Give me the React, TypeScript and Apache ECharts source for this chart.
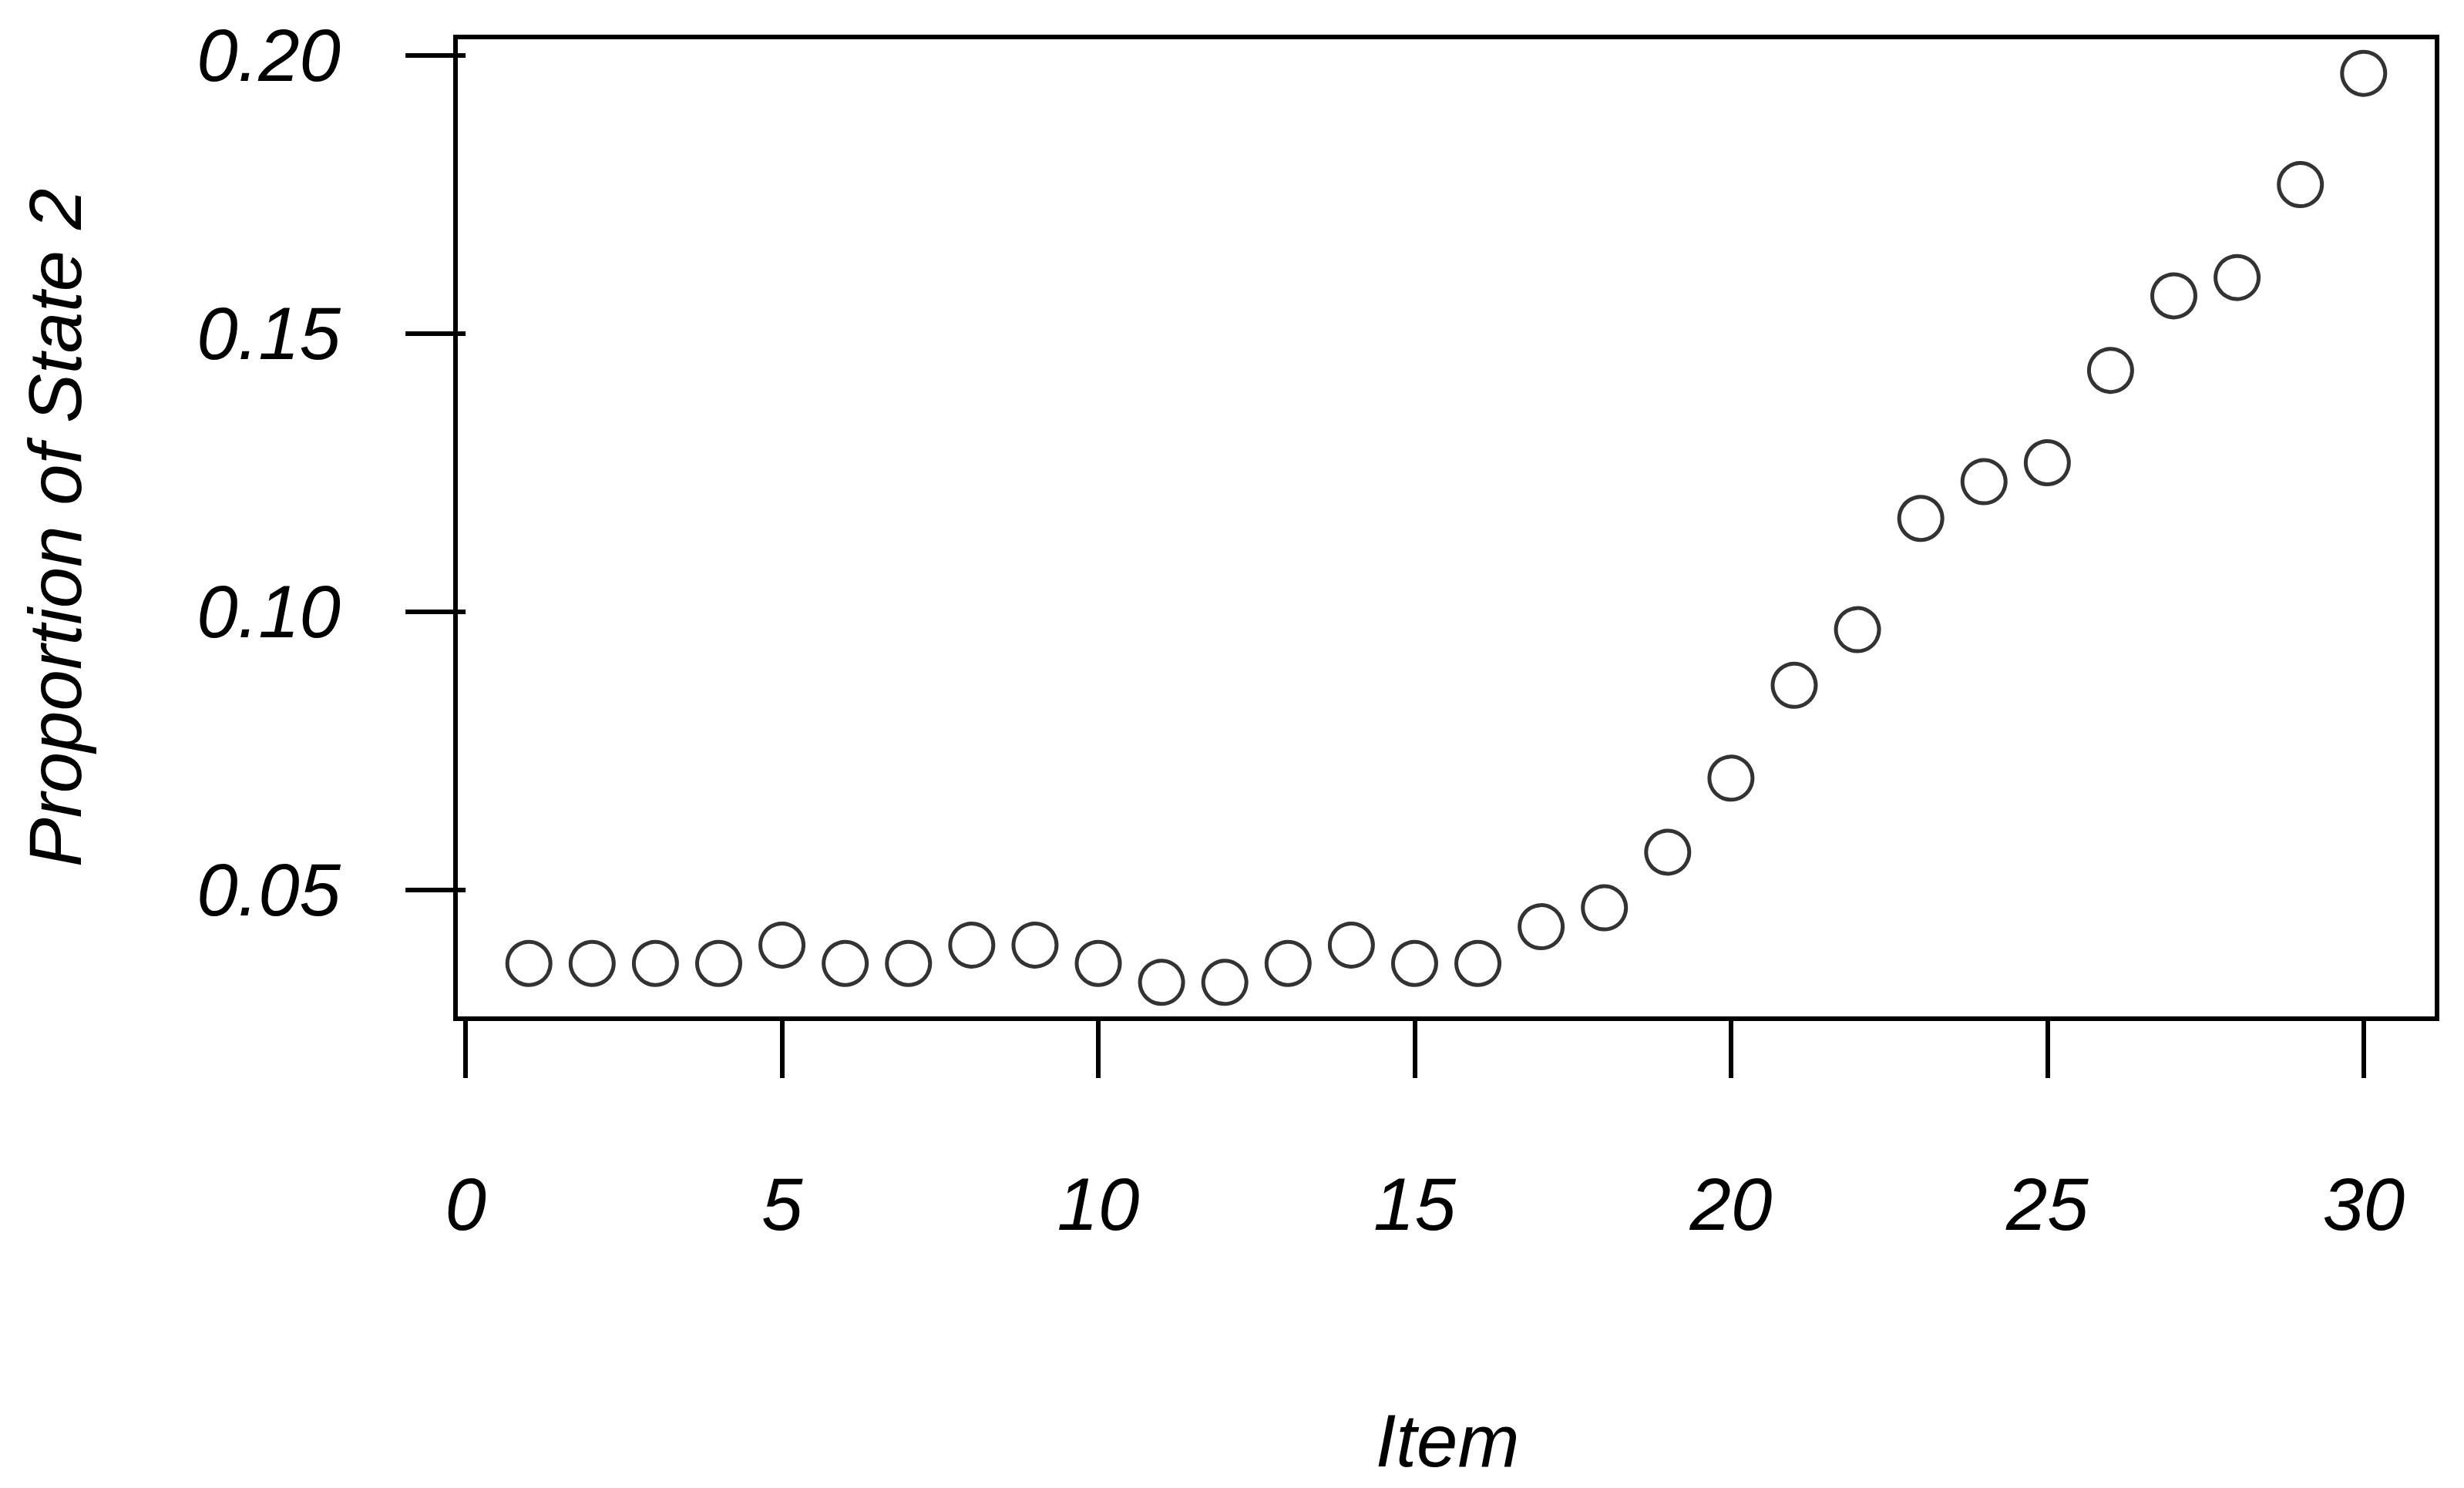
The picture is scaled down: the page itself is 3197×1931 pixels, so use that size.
import React, { useEffect, useRef } from "react";
import * as echarts from "echarts";

const items: number[] = [
  1, 2, 3, 4, 5, 6, 7, 8, 9, 10, 11, 12, 13, 14, 15,
  16, 17, 18, 19, 20, 21, 22, 23, 24, 25, 26, 27, 28, 29, 30,
];
const proportions: number[] = [
  0.0367, 0.0367, 0.0367, 0.0367, 0.04, 0.0367, 0.0367, 0.04, 0.04, 0.0367,
  0.0333, 0.0333, 0.0367, 0.04, 0.0367, 0.0367, 0.0433, 0.0467, 0.0567, 0.07,
  0.0867, 0.0967, 0.1167, 0.1233, 0.1267, 0.1433, 0.1567, 0.16, 0.1767, 0.1967,
];
const xTicks: number[] = [0, 5, 10, 15, 20, 25, 30];
const yTicks: number[] = [0.05, 0.1, 0.15, 0.2];
const xTitle = "Item";
const yTitle = "Proportion of State 2";

const FONT = "'Liberation Sans', Arial, sans-serif";

export default function App() {
  const ref = useRef<HTMLDivElement>(null);
  useEffect(() => {
    if (!ref.current) return;
    const chart = echarts.init(ref.current, null, { renderer: "svg" });
    const xr = Math.max(...items) - Math.min(...items);
    const yMin = Math.min(...proportions);
    const yMax = Math.max(...proportions);
    const yr = yMax - yMin;
    chart.setOption({
      animation: false,
      backgroundColor: "#ffffff",
      grid: {
        left: 591,
        right: 35,
        top: 48,
        bottom: 609,
        show: true,
        borderColor: "#000",
        borderWidth: 6,
        backgroundColor: "transparent",
      },
      xAxis: {
        type: "value",
        min: Math.min(...items) - 0.04 * xr,
        max: Math.max(...items) + 0.04 * xr,
        splitLine: { show: false },
        axisLine: { show: false },
        axisTick: {
          show: true,
          length: 77,
          inside: false,
          customValues: xTicks,
          lineStyle: { color: "#000", width: 6 },
        },
        axisLabel: {
          customValues: xTicks,
          margin: 192,
          fontSize: 96,
          fontStyle: "italic",
          fontFamily: FONT,
          color: "#000",
          formatter: (v: number) => String(v),
        },
      },
      yAxis: {
        type: "value",
        min: yMin - 0.04 * yr,
        max: yMax + 0.04 * yr,
        splitLine: { show: false },
        axisLine: { show: false },
        axisTick: {
          show: true,
          length: 78,
          inside: false,
          customValues: yTicks,
          lineStyle: { color: "#000", width: 6 },
        },
        axisLabel: {
          customValues: yTicks,
          margin: 149,
          fontSize: 96,
          fontStyle: "italic",
          fontFamily: FONT,
          color: "#000",
          formatter: (v: number) => v.toFixed(2),
        },
      },
      graphic: [
        {
          type: "text",
          x: 71,
          y: 685,
          rotation: Math.PI / 2,
          style: {
            text: yTitle,
            fontSize: 96,
            fontStyle: "italic",
            fontFamily: FONT,
            fill: "#000",
            textAlign: "center",
            textVerticalAlign: "middle",
          },
        },
        {
          type: "text",
          x: 1878,
          y: 1869,
          style: {
            text: xTitle,
            fontSize: 96,
            fontStyle: "italic",
            fontFamily: FONT,
            fill: "#000",
            textAlign: "center",
            textVerticalAlign: "middle",
          },
        },
      ],
      series: [
        {
          type: "scatter",
          data: items.map((x, i) => [x, proportions[i]]),
          symbol: "circle",
          symbolSize: 56,
          itemStyle: {
            color: "rgba(0,0,0,0)",
            borderColor: "#000",
            borderWidth: 5,
          },
          emphasis: { disabled: true },
        },
      ],
    });
    return () => chart.dispose();
  }, []);
  return (
    <div
      ref={ref}
      style={{ position: "fixed", left: 0, top: 0, width: 3197, height: 1931, background: "#fff" }}
    />
  );
}
